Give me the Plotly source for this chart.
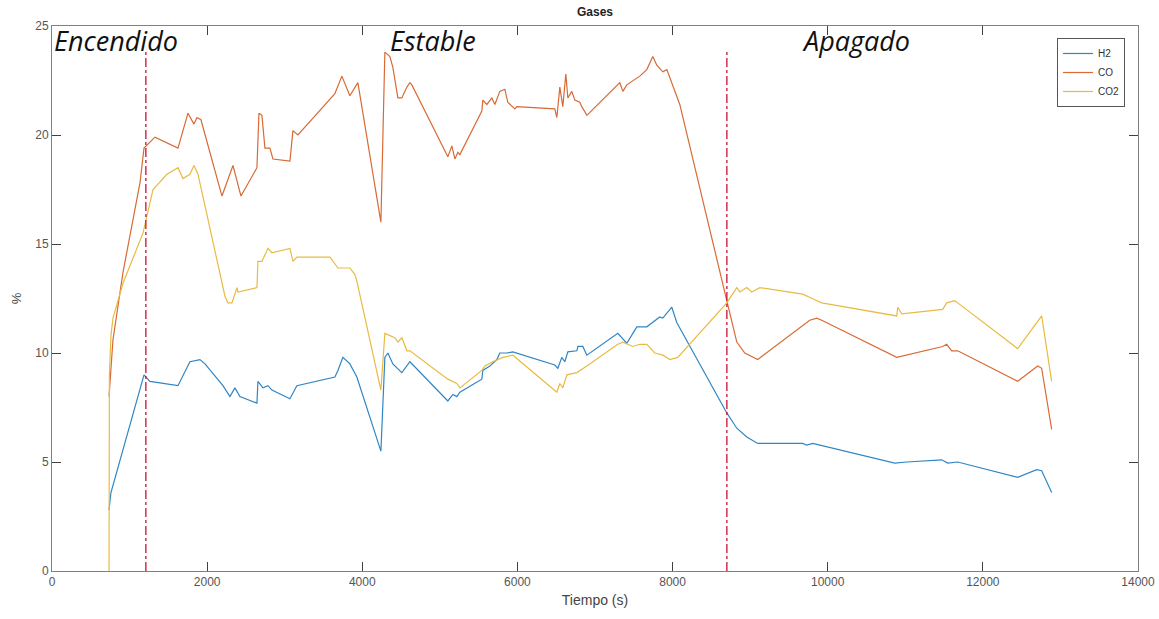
import plotly.graph_objects as go

# ---------------- data ----------------
h2_x = [735, 760, 1186, 1263, 1624, 1778, 1907, 1972, 2204, 2294, 2358, 2423, 2642, 2655, 2719,
        2784, 2835, 3067, 3157, 3647, 3686, 3750, 3840, 3930, 4240, 4291, 4330, 4394, 4510, 4614,
        5103, 5168, 5219, 5258, 5541, 5554, 5644, 5735, 5773, 5864, 5941, 6482, 6521, 6572, 6611,
        6650, 6766, 6779, 6843, 6895, 7294, 7410, 7488, 7539, 7668, 7835, 7874, 7990, 8054, 8699,
        8828, 8957, 9098, 9678, 9730, 9807, 10864, 11018, 11469, 11547, 11676, 12449, 12694,
        12758, 12887]
h2_y = [2.8, 3.6, 9.0, 8.7, 8.5, 9.6, 9.7, 9.5, 8.5, 8.0, 8.4, 8.0, 7.7, 8.7, 8.4,
        8.5, 8.3, 7.9, 8.5, 8.9, 9.2, 9.8, 9.5, 8.9, 5.5, 9.8, 10.0, 9.5, 9.1, 9.6,
        7.8, 8.1, 8.0, 8.2, 8.8, 9.2, 9.4, 9.7, 10.0, 10.0, 10.05, 9.45, 9.3, 9.8, 9.6,
        10.05, 10.1, 10.3, 10.3, 9.9, 10.9, 10.45, 10.9, 11.2, 11.2, 11.65, 11.6, 12.1, 11.4, 7.25,
        6.55, 6.15, 5.85, 5.85, 5.78, 5.85, 4.95, 5.0, 5.1, 4.95, 5.0, 4.3, 4.65,
        4.6, 3.6]

co_x = [735, 786, 915, 1134, 1186, 1327, 1624, 1753, 1830, 1869, 1920, 2191, 2333, 2436, 2642,
        2668, 2706, 2745, 2809, 2848, 3067, 3106, 3170, 3647, 3737, 3840, 3943, 4240, 4291, 4356,
        4394, 4459, 4510, 4575, 4614, 4639, 5103, 5155, 5193, 5232, 5258, 5541, 5554, 5606, 5670,
        5709, 5773, 5838, 5876, 5967, 5992, 6482, 6508, 6547, 6585, 6624, 6650, 6701, 6740, 6804,
        6830, 6895, 7320, 7359, 7410, 7577, 7668, 7745, 7797, 7874, 7926, 8054, 8093, 8699, 8828,
        8931, 9034, 9098, 9768, 9859, 9923, 10890, 11482, 11534, 11598, 11676, 12449, 12707,
        12758, 12887]
co_y = [8.0, 10.6, 13.7, 17.8, 19.4, 19.9, 19.4, 21.0, 20.5, 20.8, 20.7, 17.2, 18.6, 17.2, 18.5,
        21.0, 20.9, 19.4, 19.4, 18.9, 18.8, 20.2, 20.0, 21.9, 22.7, 21.8, 22.4, 16.0, 23.8, 23.6,
        23.1, 21.7, 21.7, 22.2, 22.4, 22.3, 19.0, 19.5, 18.9, 19.2, 19.1, 21.1, 21.6, 21.4, 21.7,
        21.4, 22.0, 22.1, 21.5, 21.2, 21.3, 21.2, 20.8, 22.2, 21.3, 22.8, 21.7, 22.0, 21.6, 21.5,
        21.3, 20.9, 22.4, 22.0, 22.3, 22.7, 23.0, 23.6, 23.2, 22.9, 23.0, 21.7, 21.4, 12.4, 10.5,
        10.0, 9.8, 9.7, 11.5, 11.6, 11.5, 9.8, 10.3, 10.4, 10.1, 10.1, 8.7, 9.4,
        9.3, 6.5]

co2_x = [735, 740, 760, 786, 915, 1134, 1173, 1302, 1482, 1624, 1688, 1778, 1830, 1882, 2230,
         2268, 2320, 2384, 2397, 2642, 2655, 2706, 2784, 2835, 3067, 3106, 3157, 3583, 3686, 3840,
         3905, 3930, 4240, 4291, 4356, 4420, 4459, 4510, 4575, 4614, 5103, 5155, 5219, 5258, 5541,
         5580, 5683, 5812, 5941, 6508, 6547, 6585, 6637, 6766, 6895, 7294, 7359, 7488, 7577, 7668,
         7771, 7874, 7965, 8067, 8699, 8828, 8867, 8957, 9021, 9124, 9678, 9800, 9923, 10890,
         10903, 10955, 11482, 11534, 11637, 11676, 12449, 12758, 12887]
co2_y = [0.0, 9.0, 10.8, 11.6, 13.2, 15.2, 15.5, 17.5, 18.2, 18.5, 18.0, 18.2, 18.6, 18.2, 12.6,
         12.3, 12.3, 13.0, 12.8, 13.0, 14.2, 14.2, 14.8, 14.6, 14.8, 14.2, 14.4, 14.4, 13.9, 13.9,
         13.6, 13.3, 8.3, 10.9, 10.8, 10.7, 10.5, 10.7, 10.1, 10.1, 8.8, 8.7, 8.6, 8.4, 9.2,
         9.4, 9.6, 9.8, 9.9, 8.2, 8.6, 8.4, 9.0, 9.1, 9.4, 10.4, 10.5, 10.3, 10.4, 10.4,
         10.0, 9.9, 9.7, 9.8, 12.3, 13.0, 12.8, 13.0, 12.8, 13.0, 12.7, 12.5, 12.3, 11.7,
         12.1, 11.8, 12.0, 12.3, 12.4, 12.3, 10.2, 11.7, 8.7]

phase_x = [1210, 8700]
phase_labels = ["Encendido", "Estable", "Apagado"]
phase_label_x = [0, 4330, 9640]

x_ticks = [0, 2000, 4000, 6000, 8000, 10000, 12000, 14000]
y_ticks = [0, 5, 10, 15, 20, 25]

# ---------------- figure ----------------
fig = go.Figure()
series = [("H2", h2_x, h2_y, "#3086c4"),
          ("CO", co_x, co_y, "#d86a35"),
          ("CO2", co2_x, co2_y, "#e8bb40")]
for name, xs, ys, col in series:
    fig.add_trace(go.Scatter(x=xs, y=ys, mode="lines", name=name,
                             line=dict(color=col, width=1.2)))

for px in phase_x:
    fig.add_shape(type="line", x0=px, x1=px, y0=0, y1=23.9, xref="x", yref="y",
                  line=dict(color="#cc1030", width=1.3, dash="dashdot"))

for lbl, lx in zip(phase_labels, phase_label_x):
    fig.add_annotation(x=lx, y=24.35, xref="x", yref="y", text=f"<i>{lbl}</i>",
                       showarrow=False, xanchor="left", yanchor="middle",
                       font=dict(family="Open Sans", size=27, color="#111111"))

axis_common = dict(showgrid=False, zeroline=False, showline=True, linecolor="#808080",
                   linewidth=1, mirror="ticks", ticks="inside", ticklen=9,
                   tickcolor="#404040", automargin=False,
                   tickfont=dict(family="Liberation Sans", size=12, color="#555555"))
fig.update_xaxes(range=[0, 14000], tickvals=x_ticks, ticktext=[str(v) for v in x_ticks],
                 title=dict(text="Tiempo (s)", font=dict(family="Liberation Sans", size=14,
                                                         color="#444444"), standoff=6),
                 **axis_common)
fig.update_yaxes(range=[0, 25], tickvals=y_ticks, ticktext=[str(v) for v in y_ticks],
                 title=dict(text="%", font=dict(family="Liberation Sans", size=13,
                                                color="#444444"), standoff=10),
                 **axis_common)

fig.update_layout(
    width=1159, height=619,
    margin=dict(l=52, r=21, t=26, b=48, autoexpand=False),
    paper_bgcolor="white", plot_bgcolor="white",
    title=dict(text="<b>Gases</b>", x=(52 + 1138) / 2 / 1159, xanchor="center",
               y=1 - 12 / 619, yanchor="middle",
               font=dict(family="Liberation Sans", size=12, color="#222222")),
    legend=dict(x=0.988, y=0.978, xanchor="right", yanchor="top",
                bgcolor="white", bordercolor="#555555", borderwidth=1,
                font=dict(family="Liberation Sans", size=10, color="#333333"),
                tracegroupgap=0, itemwidth=30),
    showlegend=True,
)

fig.write_html("out.html", config={"displayModeBar": False},
               post_script="document.body.style.margin='0px';document.body.style.overflow='hidden';")
